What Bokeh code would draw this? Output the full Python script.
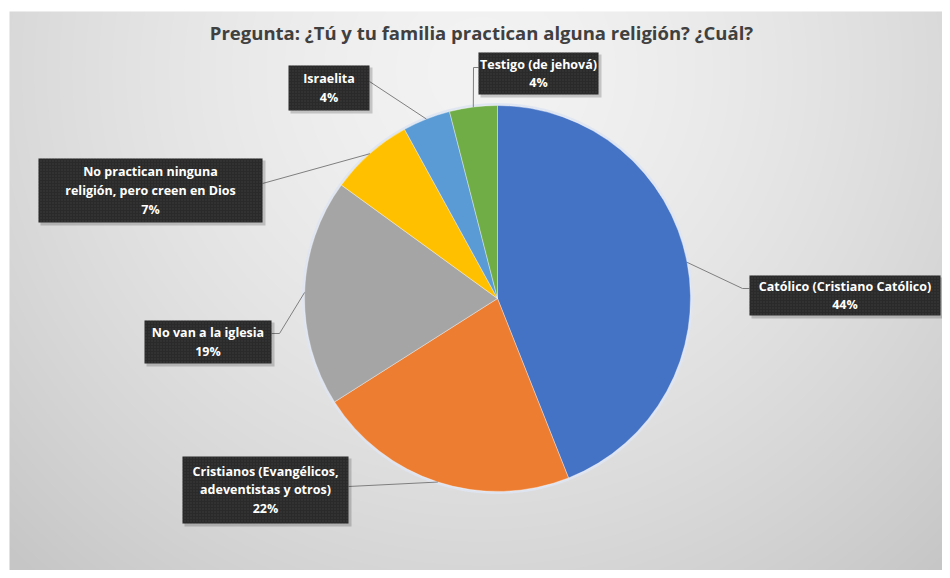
import numpy as np
from bokeh.plotting import figure
from bokeh.models import Range1d, ColumnDataSource
from bokeh.core.properties import value
from bokeh.embed import file_html
from bokeh.resources import INLINE

# ---- data ----
categories = ["Católico (Cristiano Católico)",
              "Cristianos (Evangélicos,\nadeventistas y otros)",
              "No van a la iglesia",
              "No practican ninguna\nreligión, pero creen en Dios",
              "Israelita",
              "Testigo (de jehová)"]
percent = [44, 22, 19, 7, 4, 4]
colors = ["#4472C4", "#ED7D31", "#A5A5A5", "#FFC000", "#5B9BD5", "#70AD47"]
title_text = "Pregunta: ¿Tú y tu familia practican alguna religión? ¿Cuál?"

W, H = 942, 570
def X(sx):
    return sx
def Y(sy):
    return H - sy

p = figure(width=W, height=H, x_range=Range1d(0, W), y_range=Range1d(0, H),
           output_backend="svg", toolbar_location=None, min_border=0)
p.axis.visible = False
p.grid.visible = False
p.outline_line_color = None
p.background_fill_color = "white"
p.border_fill_color = "white"

# background radial gradient
bx0, by0 = X(9), 0
bw, bh = W - bx0, Y(11)
ny, nx = int(bh), int(bw)
yy, xx = np.mgrid[0:ny, 0:nx]
sx = xx + 9
sy = H - (yy + 0.5)
d = np.sqrt((sx - 480) ** 2 + (sy - 70) ** 2)
t = np.clip(d / 680.0, 0, 1) ** 1.5
g = (0xf3 - (0xf3 - 0xc6) * t).astype(np.uint32)
img = (255 << 24) | (g << 16) | (g << 8) | g
p.image_rgba(image=[img.astype(np.uint32)], x=bx0, y=by0, dw=bw, dh=bh)

# pie
cx, cy, r = X(497), Y(298), 193
frac = np.array(percent, dtype=float) / sum(percent)
cum = np.concatenate([[0], np.cumsum(frac)])
start = np.pi / 2 - 2 * np.pi * cum[1:]
end = np.pi / 2 - 2 * np.pi * cum[:-1]
p.circle(x=cx, y=cy, radius=r + 2.5, fill_color="#dfe6f2", fill_alpha=0.9, line_color=None)
src = ColumnDataSource(dict(start=start, end=end, color=colors))
p.wedge(x=cx, y=cy, radius=r, start_angle="start", end_angle="end",
        fill_color="color", line_color="white", line_width=0.6, line_alpha=0.6, source=src)

# label layout (screen px): box left, top, right, bottom ; leader path pts
boxes = [
    (749, 275, 940, 315),
    (182, 456, 348, 523),
    (144, 320, 271, 363),
    (38, 158, 262, 222),
    (288, 65, 369, 110),
    (478, 52, 598, 94),
]
leaders = [
    [(742, 288), (749, 288)],
    [(348, 486)],
    [(279, 333), (271, 333)],
    [(262, 183)],
    [(369, 81)],
    [(473, 67), (478, 67)],
]
mid = (cum[:-1] + cum[1:]) / 2
for i in range(len(categories)):
    a = np.pi / 2 - 2 * np.pi * mid[i]
    ex, ey = cx + r * np.cos(a), cy + r * np.sin(a)
    xs = [ex] + [X(q[0]) for q in leaders[i]]
    ys = [ey] + [Y(q[1]) for q in leaders[i]]
    p.line(xs, ys, line_color="#7f7f7f", line_width=1)

for i, (l, t_, rr, b) in enumerate(boxes):
    p.quad(left=X(l) + 2, right=X(rr) + 3, top=Y(t_) - 2, bottom=Y(b) - 3,
           fill_color="#000000", fill_alpha=0.18, line_color=None)
    p.quad(left=X(l), right=X(rr), top=Y(t_), bottom=Y(b),
           fill_color="#2a2a2a", line_color=None,
           hatch_pattern="dot", hatch_color="#4a4a4a", hatch_scale=3, hatch_alpha=0.6)
    txt = categories[i] + "\n" + f"{percent[i]}%"
    p.text(x=[(X(l) + X(rr)) / 2], y=[(Y(t_) + Y(b)) / 2], text=[txt],
           text_align="center", text_baseline="middle",
           text_font=value("Open Sans"), text_font_style="bold", text_font_size="12.5px",
           text_color="white", text_line_height=1.1)

p.text(x=[X(481)], y=[Y(32)], text=[title_text], text_align="center", text_baseline="middle",
       text_font=value("Open Sans"), text_font_style="bold", text_font_size="18.5px", text_color="#404040")

open("out.html", "w").write(file_html(p, INLINE))
